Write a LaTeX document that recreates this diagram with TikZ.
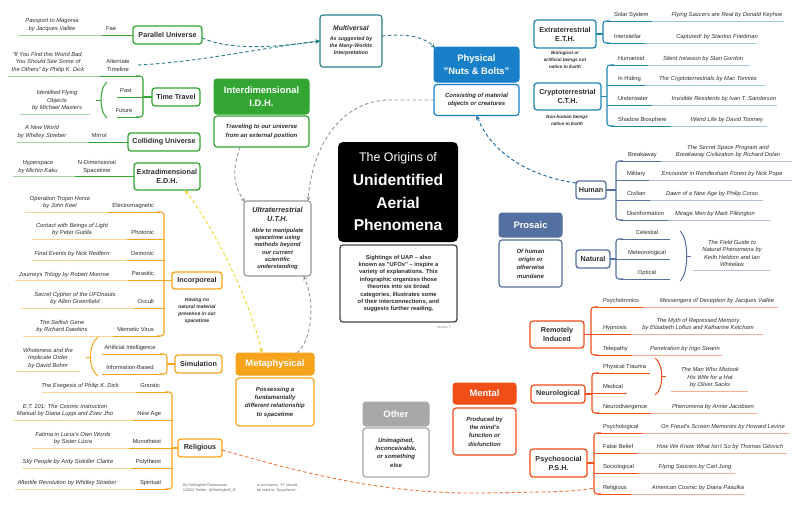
\documentclass[tikz,border=0pt]{standalone}
\usepackage{fontspec}
\setmainfont{Liberation Sans}
\usetikzlibrary{arrows.meta,backgrounds}
\definecolor{cgreen}{RGB}{50,165,50}
\definecolor{cblue}{RGB}{24,128,200}
\definecolor{cteal}{RGB}{32,135,180}
\definecolor{cmulti}{RGB}{38,125,135}
\definecolor{cslate}{RGB}{84,112,160}
\definecolor{cred}{RGB}{240,78,22}
\definecolor{corange}{RGB}{247,163,27}
\definecolor{cgray}{RGB}{168,168,168}
\definecolor{cyellow}{RGB}{240,210,40}
\definecolor{ctext}{RGB}{45,45,45}
\definecolor{cdash}{RGB}{150,150,150}
\definecolor{crel}{RGB}{236,120,60}
\definecolor{cintro}{RGB}{70,70,70}

\newcommand\leafR[8]{%
  \node[lbl,anchor=base west] (LL) at (#5,#4-4.6) {#6};
  \node[book,anchor=south] at (#7,#4-3.3) {#8};
  \coordinate (LA) at (#2,#4);
  \path (LL.east) ++(4,0) coordinate (LS);
  \draw[leafline,#1] (LA) -- (LA -| LS);
  \draw[leafline,#1!45] (LA -| LS) -- (#3,#4);
}
\newcommand\leafL[8]{%
  \node[lbl,anchor=base east] (LL) at (#5,#4-4.6) {#6};
  \node[book,anchor=south] at (#7,#4-3.3) {#8};
  \coordinate (LA) at (#2,#4);
  \path (LL.west) ++(-4,0) coordinate (LS);
  \draw[leafline,#1] (LA) -- (LA -| LS);
  \draw[leafline,#1!45] (LA -| LS) -- (#3,#4);
}

\begin{document}
\begin{tikzpicture}[x=1pt,y=-1pt,
  every node/.style={inner sep=0pt, outer sep=0pt},
  mainbox/.style={draw=#1, fill=#1, rounded corners=3pt, line width=1pt, text=white, font=\bfseries\fontsize{9.4}{12.5}\selectfont, align=center},
  descbox/.style={draw=#1, fill=white, rounded corners=3pt, line width=1.2pt, text=ctext, font=\bfseries\itshape\fontsize{6}{8.3}\selectfont, align=center},
  subbox/.style={draw=#1, fill=white, rounded corners=3pt, line width=1.3pt, text=ctext, font=\bfseries\fontsize{7.2}{9}\selectfont, align=center},
  note/.style={text=ctext, font=\bfseries\itshape\fontsize{4.6}{7}\selectfont, align=center},
  lbl/.style={font=\fontsize{5.8}{7.5}\selectfont, text=ctext},
  lbltwo/.style={font=\fontsize{5.8}{7.5}\selectfont, text=ctext, align=center},
  book/.style={font=\itshape\fontsize{5.8}{7.5}\selectfont, text=ctext, align=center},
  leafline/.style={line width=0.9pt},
  brk/.style={line width=1.1pt, rounded corners=3pt},
  conn/.style={line width=2.2pt, rounded corners=5pt},
  subconn/.style={line width=1.4pt, rounded corners=3pt},
  dline/.style={line width=0.9pt, dash pattern=on 3.5pt off 2.5pt},
  dsh/.style={dline, -{Stealth[length=4.5pt,width=4pt]}},
]
\fill[white] (0,0) rectangle (800,509);
\useasboundingbox (0,0) rectangle (800,509);

% ---------- centre ----------
\node[fill=black, rounded corners=5pt, minimum width=120pt, minimum height=100pt, text=white, align=center, font=\bfseries\fontsize{15.6}{22.5}\selectfont] (title) at (398,192) {{\mdseries\fontsize{12.4}{22.5}\selectfont The Origins of}\\[1.5pt]Unidentified\\Aerial\\Phenomena};
\node[draw=cintro, fill=white, rounded corners=3pt, line width=1.3pt, minimum width=117pt, minimum height=77pt, align=center, text=ctext, font=\bfseries\fontsize{5.8}{7.4}\selectfont] (intro) at (398.5,283.5) {Sightings of UAP – also\\known as "UFOs" – inspire a\\variety of explanations. This\\infographic organizes those\\theories into six broad\\categories, illustrates some\\of their interconnections, and\\suggests further reading.};
\node[font=\fontsize{3.4}{4}\selectfont, text=gray] (ver) at (444,327) {Version 3};

% ---------- physical ----------
\node[mainbox=cblue, minimum width=85pt, minimum height=35pt] (phys) at (476.5,64.5) {Physical\\"Nuts \& Bolts"};
\node[descbox=cblue, minimum width=85pt, minimum height=31pt] (physd) at (476.5,100) {Consisting of material\\objects or creatures};
\node[subbox=cteal, minimum width=62pt, minimum height=28pt] (eth) at (565,34) {Extraterrestrial\\E.T.H.};
\node[note] (ethd) at (565,60) {Biological or\\artificial beings not\\native to Earth};
\node[subbox=cteal, minimum width=67pt, minimum height=27pt] (cth) at (567.5,96.5) {Cryptoterrestrial\\C.T.H.};
\node[note] (cthd) at (567,120) {Non-human beings\\native to Earth};

% ---------- multiversal / ultraterrestrial ----------
\node[draw=cmulti, fill=white, rounded corners=3pt, line width=1.1pt, minimum width=62pt, minimum height=52pt, align=center, text=ctext, font=\bfseries\itshape\fontsize{5.3}{7}\selectfont] (multi) at (351,41) {{\fontsize{6.8}{9}\selectfont Multiversal}\\[3pt]As suggested by\\the Many-Worlds\\Interpretation};
\node[draw=cdash, fill=white, rounded corners=3pt, line width=1.1pt, minimum width=67pt, minimum height=75pt, align=center, text=ctext, font=\bfseries\itshape\fontsize{5.8}{7.3}\selectfont] (uth) at (277.5,238.5) {{\fontsize{7.3}{9}\selectfont Ultraterrestrial}\\[1.7pt]{\fontsize{7.3}{9}\selectfont U.T.H.}\\[3.5pt]Able to manipulate\\spacetime using\\methods beyond\\our current\\scientific\\understanding};

% ---------- interdimensional ----------
\node[mainbox=cgreen, minimum width=95pt, minimum height=35pt] (idh) at (261.5,96.5) {Interdimensional\\I.D.H.};
\node[descbox=cgreen, minimum width=95pt, minimum height=31pt] (idhd) at (261.5,131.5) {Traveling to our universe\\from an external position};
\node[subbox=cgreen, minimum width=69pt, minimum height=18pt] (par) at (167.5,35) {Parallel Universe};
\node[subbox=cgreen, minimum width=48pt, minimum height=18pt] (tt) at (176,97) {Time Travel};
\node[subbox=cgreen, minimum width=72pt, minimum height=18pt] (col) at (164,142) {Colliding Universe};
\node[subbox=cgreen, minimum width=66pt, minimum height=27pt] (edh) at (167,176.5) {Extradimensional\\E.D.H.};

% ---------- prosaic ----------
\node[mainbox=cslate, minimum width=63pt, minimum height=24pt] (prosaic) at (530.5,225) {Prosaic};
\node[descbox=cslate, minimum width=63pt, minimum height=47pt] (prosd) at (530.5,263.5) {Of human\\origin or\\otherwise\\mundane};
\node[subbox=cslate, minimum width=30pt, minimum height=18pt] (human) at (591,190) {Human};
\node[subbox=cslate, minimum width=34pt, minimum height=18pt] (natural) at (593,259) {Natural};

% ---------- mental ----------
\node[mainbox=cred, minimum width=63pt, minimum height=21pt] (mental) at (484.5,393.5) {Mental};
\node[descbox=cred, minimum width=63pt, minimum height=47pt] (mentd) at (484.5,431.5) {Produced by\\the mind's\\function or\\disfunction};
\node[subbox=cred, minimum width=54pt, minimum height=27pt] (remote) at (557,334.5) {Remotely\\Induced};
\node[subbox=cred, minimum width=54pt, minimum height=18pt] (neuro) at (558,394) {Neurological};
\node[subbox=cred, minimum width=57pt, minimum height=28pt] (psycho) at (558.5,463) {Psychosocial\\P.S.H.};

% ---------- other ----------
\node[mainbox=cgray, minimum width=66pt, minimum height=24pt] (other) at (396,414) {Other};
\node[descbox=cgray, minimum width=66pt, minimum height=49pt] (otherd) at (396,452.5) {Unimagined,\\Inconceivable,\\or something\\else};

% ---------- metaphysical ----------
\node[mainbox=corange, minimum width=78pt, minimum height=22pt] (meta) at (275,364) {Metaphysical};
\node[descbox=corange, minimum width=78pt, minimum height=48pt] (metad) at (275,402) {Possessing a\\fundamentally\\different relationship\\to spacetime};
\node[subbox=corange, minimum width=50pt, minimum height=17pt] (incorp) at (197,280.5) {Incorporeal};
\node[note, font=\bfseries\itshape\fontsize{5}{7}\selectfont] (incd) at (197,310.5) {Having no\\natural material\\presence in our\\spacetime};
\node[subbox=corange, minimum width=47pt, minimum height=18pt] (sim) at (198.5,364) {Simulation};
\node[subbox=corange, minimum width=44pt, minimum height=18pt] (rel) at (200,448) {Religious};

% ---------- connectors (behind) ----------
\begin{scope}[on background layer]
\draw[conn,cgreen] (idh.east) -| ([xshift=-6pt]title.north);
\draw[conn,cblue] ([xshift=7pt]title.north) |- (phys.west);
\draw[conn,cslate] (title.east |- prosaic.west) -- (prosaic.west);
\draw[conn,cred] ([xshift=14pt]title.south) |- (mental.west);
\draw[conn,cgray] ([xshift=-8pt]title.south) -- ([xshift=-8pt]title.south |- other.north);
\draw[conn,corange] ([xshift=-20pt]title.south) |- (meta.east);

\draw[subconn,cblue] (phys.east) -- ++(8,0);
\draw[subconn,cblue] (eth.west) -- ++(-7,0) -- ([xshift=-7pt]cth.west) -- (cth.west);
\draw[subconn,cgreen] (par.east) -- ++(5,0) -- ([xshift=7pt]edh.east) -- (edh.east);
\draw[subconn,cgreen] (tt.east) -- (idh.west);
\draw[subconn,cgreen] (col.east) -- ++(7,0);
\draw[subconn,cslate] (human.west) -- ++(-6,0) -- ([xshift=-6pt]natural.west) -- (natural.west);
\draw[subconn,cslate] (prosaic.east) -- ++(8,0);
\draw[subconn,cred] (remote.west) -- ++(-7,0) -- ([xshift=-7pt]psycho.west) -- (psycho.west);
\draw[subconn,cred] (mental.east) -- (neuro.west);
\draw[subconn,corange] (incorp.east) -- ++(6,0) -- ([xshift=6pt]rel.east) -- (rel.east);
\draw[subconn,corange] (sim.east) -- (meta.west);
\end{scope}

% ---------- leaves: E.T.H. ----------
\draw[leafline,line width=1.1pt,cteal] (eth.east) -- ++(7,0);
\draw[brk,cteal] (610,21) -- (603,21) -- (603,43) -- (610,43);
\leafR{cteal}{607}{784}{21}{614}{Solar System}{727}{Flying Saucers are Real by Donald Keyhoe}
\leafR{cteal}{607}{756}{43}{614}{Interstellar}{717}{Captured! by Stanton Friedman}

% ---------- leaves: C.T.H. ----------
\draw[leafline,line width=1.1pt,cteal] (cth.east) -- ++(6,0);
\draw[brk,cteal] (614,65) -- (607,65) -- (607,126) -- (614,126);
\leafR{cteal}{611}{750}{65}{618}{Humanoid}{703}{Silent Invasion by Stan Gordon}
\leafR{cteal}{607}{765}{85}{618}{In Hiding}{708}{The Cryptoterrestrials by Mac Tonnies}
\leafR{cteal}{607}{777}{105}{618}{Underwater}{724}{Invisible Residents by Ivan T. Sanderson}
\leafR{cteal}{611}{767}{126}{618}{Shadow Biosphere}{727}{Weird Life by David Toomey}

% ---------- leaves: Human ----------
\draw[leafline,line width=1.1pt,cslate] (human.east) -- ++(10,0);
\draw[brk,cslate] (623,161) -- (616,161) -- (616,220) -- (623,220);
\leafR{cslate}{620}{792}{161}{628}{Breakaway}{728}{The Secret Space Program and\\Breakaway Civilization by Richard Dolan}
\leafR{cslate}{616}{792}{180}{627}{Military}{722}{Encounter in Rendlesham Forest by Nick Pope}
\leafR{cslate}{616}{763}{200}{627}{Civilian}{712}{Dawn of a New Age by Philip Corso}
\leafR{cslate}{620}{770}{220}{627}{Disinformation}{715}{Mirage Men by Mark Pilkington}

% ---------- leaves: Natural ----------
\draw[leafline,line width=1.1pt,cslate] (natural.east) -- ++(6,0);
\draw[brk,cslate] (623,239) -- (616,239) -- (616,279) -- (623,279);
\draw[leafline,cslate] (620,239) -- (670,239);
\draw[leafline,cslate] (616,259) -- (670,259);
\draw[leafline,cslate] (620,279) -- (670,279);
\node[lbl,anchor=base] (nc) at (647,234.4) {Celestial};
\node[lbl,anchor=base] (nm) at (647,254.4) {Meteorological};
\node[lbl,anchor=base] (no) at (647,274.4) {Optical};
\draw[line width=1pt,cslate] (680,231) .. controls (689,238) and (689,274) .. (680,281);
\draw[line width=1pt,cslate] (687.3,256) -- (691,256);
\node[book,anchor=south] (nbook) at (732,266.7) {The Field Guide to\\Natural Phenomena by\\Keith Heldom and Ian\\Whitelaw};
\draw[leafline,cslate!45] (693,270) -- (770,270);

% ---------- leaves: Remotely induced ----------
\draw[leafline,line width=1.1pt,cred] (remote.east) -- ++(7,0);
\draw[brk,cred] (598,307) -- (591,307) -- (591,355) -- (598,355);
\leafR{cred}{595}{778}{307}{603}{Psychotronics}{717}{Messengers of Deception by Jacques Vallée}
\leafR{cred}{591}{763}{334}{603}{Hypnosis}{698}{The Myth of Repressed Memory\\by Elizabeth Loftus and Katharine Ketcham}
\leafR{cred}{595}{722}{355}{603}{Telepathy}{685}{Penetration by Ingo Swann}

% ---------- leaves: Neurological ----------
\draw[leafline,line width=1.1pt,cred] (neuro.east) -- ++(7,0);
\draw[brk,cred] (599,373) -- (592,373) -- (592,413) -- (599,413);
\draw[leafline,cred] (596,373) -- (650,373);
\draw[leafline,cred] (592,393) -- (627,393);
\node[lbl,anchor=base west] (npt) at (603,368.4) {Physical Trauma};
\node[lbl,anchor=base west] (nmed) at (603,388.4) {Medical};
\draw[line width=1pt,cred] (655,358) .. controls (664,364) and (664,389) .. (655,395);
\draw[line width=1pt,cred] (661.8,376.5) -- (666,376.5);
\node[book,anchor=south] (neubook) at (710,387.7) {The Man Who Mistook\\His Wife for a Hat\\by Oliver Sacks};
\draw[leafline,cred!45] (671,391) -- (748,391);
\leafR{cred}{596}{757}{413}{603}{Neurodivergence}{713}{Phenomena by Annie Jacobsen}

% ---------- leaves: Psychosocial ----------
\draw[leafline,line width=1.1pt,cred] (psycho.east) -- ++(7,0);
\draw[brk,cred] (601,433) -- (594,433) -- (594,494) -- (601,494);
\leafR{cred}{598}{790}{433}{603}{Psychological}{723}{On Freud's Screen Memories by Howard Levine}
\leafR{cred}{594}{787}{453}{603}{False Belief}{720}{How We Know What Isn't So by Thomas Gilovich}
\leafR{cred}{594}{735}{473}{603}{Sociological}{695}{Flying Saucers by Carl Jung}
\leafR{cred}{598}{745}{494}{603}{Religious}{698}{American Cosmic by Diana Pasulka}

% ---------- leaves: Interdimensional ----------
\leafL{cgreen}{133}{18}{35}{116}{Fae}{52}{Passport to Magonia\\by Jacques Vallée}
\draw[leafline,line width=1.1pt,cgreen] (tt.west) -- ++(-9,0);
\draw[brk,cgreen] (136,76) -- (143,76) -- (143,117) -- (136,117);
\draw[leafline,cgreen] (139,76) -- (100,76);
\draw[leafline,cgreen!45] (100,76) -- (8,76);
\node[lbltwo,anchor=south] (altl) at (118,71.5) {Alternate\\Timeline};
\node[book,anchor=south] (altb) at (48,72.7) {“If You Find this World Bad,\\You Should See Some of\\the Others” by Philip K. Dick};
\coordinate (alt) at (138,65);
\draw[leafline,cgreen] (143,97) -- (117,97);
\draw[leafline,cgreen] (139,117) -- (117,117);
\node[lbl,anchor=base] (past) at (126,92.4) {Past};
\node[lbl,anchor=base] (future) at (124,112.4) {Future};
\draw[line width=1pt,cgreen] (107,82) .. controls (99,88) and (99,112) .. (107,118);
\draw[line width=1pt,cgreen] (100.8,100) -- (96,100);
\node[book,anchor=south] (ttbook) at (57,110.7) {Identified Flying\\Objects\\by Michael Masters};
\draw[leafline,cgreen!45] (20,114) -- (90,114);
\leafL{cgreen}{128}{17}{142}{107}{Mirror}{42}{A New World\\by Whitley Strieber}
\draw[leafline,cgreen] (134,176.5) -- (75,176.5);
\draw[leafline,cgreen!45] (75,176.5) -- (13,176.5);
\node[lbltwo,anchor=south] (ndim) at (97,173.2) {N-Dimensional\\Spacetime};
\node[book,anchor=south] (hyper) at (38,173.2) {Hyperspace\\by Michio Kaku};

% ---------- leaves: Incorporeal ----------
\draw[leafline,line width=1.1pt,corange] (incorp.west) -- ++(-8,0);
\draw[brk,corange] (157,212) -- (164,212) -- (164,336) -- (157,336);
\leafL{corange}{160}{25}{212}{154}{Electromagnetic}{60}{Operation Trojan Horse\\by John Keel}
\leafL{corange}{164}{32}{239}{154}{Photonic}{72}{Contact with Beings of Light\\by Peter Gutilla}
\leafL{corange}{164}{32}{260}{154}{Demonic}{72}{Final Events by Nick Redfern}
\leafL{corange}{164}{15}{280.5}{154}{Parasitic}{64}{Journeys Trilogy by Robert Monroe}
\leafL{corange}{164}{20}{308}{154}{Occult}{75}{Secret Cypher of the UFOnauts\\by Allen Greenfield}
\leafL{corange}{160}{23}{336}{154}{Memetic Virus}{62}{The Selfish Gene\\by Richard Dawkins}

% ---------- leaves: Simulation ----------
\draw[leafline,line width=1.1pt,corange] (sim.west) -- ++(-8,0);
\draw[brk,corange] (160,354) -- (167,354) -- (167,374) -- (160,374);
\draw[leafline,corange] (163,354) -- (102,354);
\draw[leafline,corange] (163,374) -- (102,374);
\node[lbl,anchor=base] (ai) at (130,349.4) {Artificial Intelligence};
\node[lbl,anchor=base] (ib) at (130,369.4) {Information-Based};
\draw[line width=1pt,corange] (98,337) .. controls (88,344) and (88,370) .. (98,376);
\draw[line width=1pt,corange] (90.6,357) -- (86,357);
\node[book,anchor=south] (bohm) at (48,368.2) {Wholeness and the\\Implicate Order\\by David Bohm};
\draw[leafline,corange!45] (16,371.5) -- (80,371.5);

% ---------- leaves: Religious ----------
\draw[leafline,line width=1.1pt,corange] (rel.west) -- ++(-6,0);
\draw[brk,corange] (165,392) -- (172,392) -- (172,489) -- (165,489);
\leafL{corange}{168}{42}{392}{160}{Gnostic}{80}{The Exegesis of Philip K. Dick}
\leafL{corange}{172}{13}{420}{161}{New Age}{65}{E.T. 101: The Cosmic Instruction\\Manual by Diana Luppi and Zoev Jho}
\leafL{corange}{172}{32}{448}{161}{Monotheist}{73}{Fatima in Lucia's Own Words\\by Sister Lúcia}
\leafL{corange}{172}{22}{468}{161}{Polytheist}{68}{Sky People by Ardy Sixkiller Clarke}
\leafL{corange}{168}{15}{489}{161}{Spiritual}{67}{Afterlife Revolution by Whitley Strieber}

% ---------- dashed cross links ----------
\draw[dsh,cmulti] ([yshift=-3pt]par.east) .. controls (230,50) and (270,48) .. (multi.west);
\draw[dsh,cmulti] (alt) .. controls (200,62) and (260,48) .. (multi.west);
\draw[dsh,cmulti] ([yshift=5pt]multi.east) .. controls (410,33) and (425,38) .. ([xshift=1pt,yshift=-1pt]phys.north west);
\draw[dsh,cblue!80!black] ([yshift=-2pt]human.north west) .. controls (540,178) and (495,160) .. (physd.south);
\draw[dsh,cdash] ([xshift=-21.5pt]idhd.south) .. controls (232,170) and (233,185) .. ([xshift=1pt,yshift=-1pt]uth.north west);
\draw[dsh,cdash] (physd.west) -- (390,100) .. controls (345,100) and (313,140) .. ([xshift=-3pt]uth.north east);
\draw[dsh,cdash] ([xshift=22pt]meta.north) .. controls (314,338) and (314,298) .. ([xshift=26pt]uth.south);
\draw[dline,cyellow,{Stealth[length=4.5pt,width=4pt]}-{Stealth[length=4.5pt,width=4pt]}] ([xshift=-13pt]meta.north) .. controls (250,300) and (215,230) .. ([xshift=18pt]edh.south);
\coordinate (relend) at (594,488);
\draw[dline,crel] ([yshift=-2pt]rel.east) .. controls (300,472) and (380,494) .. (480,493) .. controls (545,492) and (575,492) .. (relend);

% ---------- footer ----------
\node[font=\fontsize{3.8}{4.8}\selectfont, text=gray!80!black, align=left, anchor=north west] (credit) at (183,483.5) {By Sorlingkoff Rasmussen\\©2022 Twitter: @Sorlingkoff\_R};
\node[font=\itshape\fontsize{3.8}{4.8}\selectfont, text=gray!80!black, align=left, anchor=north west] (acro) at (257,483.5) {In acronyms, "H" should\\be read as "hypothesis"};
\end{tikzpicture}
\end{document}
